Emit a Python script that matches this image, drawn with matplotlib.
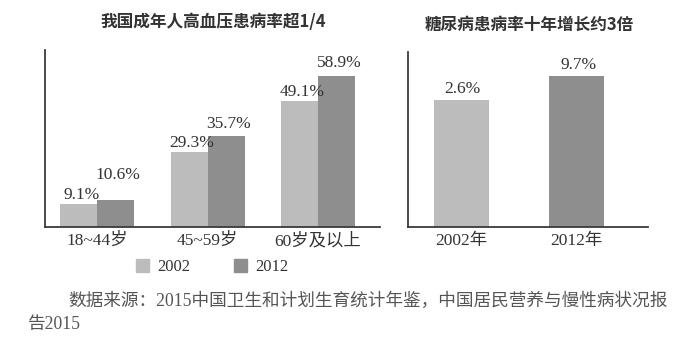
import matplotlib
matplotlib.use("Agg")
import matplotlib.pyplot as plt
from matplotlib.patches import Patch

plt.rcParams['font.family'] = ['Liberation Serif', 'Noto Sans CJK SC']

# 高血压患病率（按年龄组）
age_groups = ["18~44岁", "45~59岁", "60岁及以上"]
hyper_2002 = [9.1, 29.3, 49.1]
hyper_2012 = [10.6, 35.7, 58.9]

# 糖尿病患病率
years = ["2002年", "2012年"]
diabetes = [2.6, 9.7]

series_names = ["2002", "2012"]
c02 = "#bcbcbc"
c12 = "#8e8e8e"
spine_c = "#3a3a3a"
txt_c = "#333333"

fig = plt.figure(figsize=(6.74, 3.55), dpi=100)

# 左图
ax1 = fig.add_axes([0.0668, 0.36, 0.497, 0.499])
w = 0.335
xs = range(len(age_groups))
b1 = ax1.bar([x - w / 2 for x in xs], hyper_2002, w, color=c02)
b2 = ax1.bar([x + w / 2 for x in xs], hyper_2012, w, color=c12)
# 标签偏移（像素），第一组2012标签抬高以避开2002标签
for bars, vals, lifts in ((b1, hyper_2002, [1, 1, 1]), (b2, hyper_2012, [17, 4, 5])):
    for b, v, lift in zip(bars, vals, lifts):
        ax1.annotate(f"{v}%", (b.get_x() + b.get_width() / 2, v), xytext=(2, lift * 0.72),
                     textcoords="offset points", ha="center", va="bottom",
                     fontsize=12.5, color=txt_c)
ax1.set_xlim(-0.47, 2.56)
ax1.set_ylim(0, 69)
ax1.set_xticks(list(xs))
ax1.set_xticklabels(age_groups, fontsize=12.5, color=txt_c)
ax1.set_yticks([])
ax1.tick_params(axis="x", length=0, pad=4)

# 右图（原图基线不为零）
base = -35.0
ax2 = fig.add_axes([0.605, 0.36, 0.356, 0.493])
w2 = 0.476
xr = range(len(years))
bars = ax2.bar(list(xr), [v - base for v in diabetes], w2, bottom=base,
               color=[c02, c12])
for b, v in zip(bars, diabetes):
    ax2.annotate(f"{v}%", (b.get_x() + b.get_width() / 2, v), xytext=(1, 2),
                 textcoords="offset points", ha="center", va="bottom",
                 fontsize=12.5, color=txt_c)
ax2.set_xlim(-0.463, 1.615)
ax2.set_ylim(base, 16.8)
ax2.set_xticks(list(xr))
ax2.set_xticklabels(years, fontsize=12.5, color=txt_c)
ax2.set_yticks([])
ax2.tick_params(axis="x", length=0, pad=4)

for ax in (ax1, ax2):
    for s in ("top", "right"):
        ax.spines[s].set_visible(False)
    for s in ("left", "bottom"):
        ax.spines[s].set_color(spine_c)
        ax.spines[s].set_linewidth(1.3)

fig.text(213 / 674, 1 - 22 / 355, "我国成年人高血压患病率超1/4", fontsize=12,
         fontweight="bold", color=txt_c, family=["Noto Sans CJK SC"], ha="center", va="center")
fig.text(529 / 674, 1 - 25 / 355, "糖尿病患病率十年增长约3倍", fontsize=12,
         fontweight="bold", color=txt_c, family=["Noto Sans CJK SC"], ha="center", va="center")

handles = [Patch(color=c02), Patch(color=c12)]
fig.legend(handles, series_names, loc="center", bbox_to_anchor=(212 / 674, 1 - 267 / 355),
           ncol=2, frameon=False, fontsize=12, handlelength=0.8, handleheight=0.8,
           handletextpad=0.5, columnspacing=2.6, labelcolor=txt_c)

fig.text(68 / 674, 1 - 301 / 355, "数据来源：2015中国卫生和计划生育统计年鉴，中国居民营养与慢性病状况报",
         fontsize=12.7, color="#555555", va="center")
fig.text(28 / 674, 1 - 324 / 355, "告2015", fontsize=12.7, color="#555555", va="center")

fig.savefig("out.png", dpi=100, facecolor="white")
